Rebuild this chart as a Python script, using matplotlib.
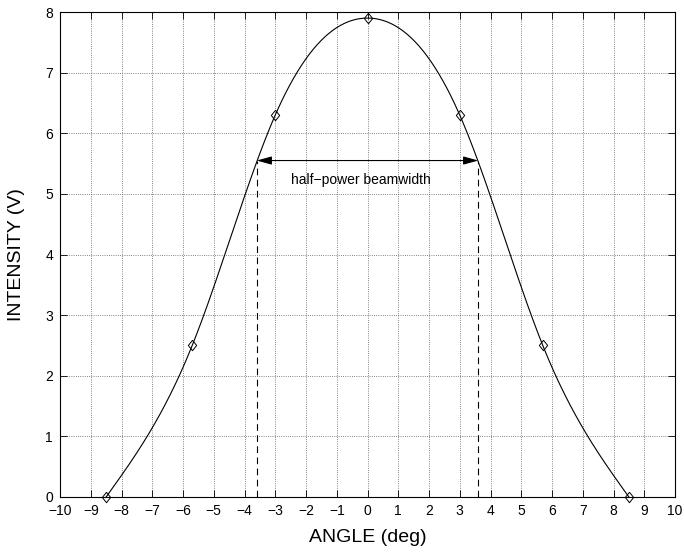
import numpy as np
import matplotlib
matplotlib.use("Agg")
import matplotlib.pyplot as plt

# ---- data ----
angle_deg = [-8.5, -5.7, -3.0, 0.0, 3.0, 5.7, 8.5]
intensity_v = [0.0, 2.5, 6.3, 7.9, 6.3, 2.5, 0.0]
half_power_left = -3.6
half_power_right = 3.6
half_power_level = 5.55
x_ticks = list(range(-10, 11))
y_ticks = list(range(0, 9))
annotation_text = "half\u2212power beamwidth"


def natural_spline(x, y, xs):
    x = np.asarray(x, float)
    y = np.asarray(y, float)
    n = len(x)
    h = np.diff(x)
    A = np.zeros((n, n))
    b = np.zeros(n)
    A[0, 0] = 1.0
    A[n - 1, n - 1] = 1.0
    for i in range(1, n - 1):
        A[i, i - 1] = h[i - 1]
        A[i, i] = 2 * (h[i - 1] + h[i])
        A[i, i + 1] = h[i]
        b[i] = 6 * ((y[i + 1] - y[i]) / h[i] - (y[i] - y[i - 1]) / h[i - 1])
    M = np.linalg.solve(A, b)
    xs = np.asarray(xs, float)
    idx = np.clip(np.searchsorted(x, xs) - 1, 0, n - 2)
    x0, x1 = x[idx], x[idx + 1]
    hh = x1 - x0
    return (M[idx] * (x1 - xs) ** 3 / (6 * hh) + M[idx + 1] * (xs - x0) ** 3 / (6 * hh)
            + (y[idx] - M[idx] * hh ** 2 / 6) * (x1 - xs) / hh
            + (y[idx + 1] - M[idx + 1] * hh ** 2 / 6) * (xs - x0) / hh)


plt.rcParams['font.family'] = ['Liberation Sans', 'DejaVu Sans']

fig = plt.figure(figsize=(6.84, 5.54), dpi=100)
ax = fig.add_axes([60 / 684, 1 - 497 / 554, 615 / 684, 485 / 554])

xs = np.linspace(angle_deg[0], angle_deg[-1], 400)
ax.plot(xs, natural_spline(angle_deg, intensity_v, xs), color='k', lw=0.8)

diamond = [(0, 1), (0.8, 0), (0, -1), (-0.8, 0), (0, 1)]
ax.plot(angle_deg, intensity_v, linestyle='none', marker=diamond, markersize=7.5,
        markerfacecolor='none', markeredgecolor='k', markeredgewidth=0.7, clip_on=False)

for xv in (half_power_left, half_power_right):
    ax.plot([xv, xv], [0, half_power_level], color='k', lw=0.8, dashes=(6, 4))

ax.annotate('', xy=(half_power_right, half_power_level), xytext=(half_power_left, half_power_level),
            arrowprops=dict(arrowstyle='<|-|>,head_length=0.9,head_width=0.25', mutation_scale=10,
                            color='k', lw=0.8, shrinkA=0, shrinkB=0))
ax.text(-0.2, 5.23, annotation_text, ha='center', va='center', fontsize=10)

ax.set_xlim(-10, 10)
ax.set_ylim(0, 8)
ax.set_xticks(x_ticks)
ax.set_yticks(y_ticks)
ax.tick_params(direction='in', top=True, right=True, length=5, width=0.6, labelsize=10, pad=5)
ax.grid(True, linestyle=':', color='0.35', lw=0.6)
for s in ax.spines.values():
    s.set_linewidth(0.8)

ax.set_xlabel('ANGLE (deg)', fontsize=14, va='center')
ax.set_ylabel('INTENSITY (V)', fontsize=14, va='center')
ax.xaxis.set_label_coords(0.5, (497 - 538) / 485)
ax.yaxis.set_label_coords((17 - 60) / 615, 0.5)

fig.savefig('out.png', dpi=100)
